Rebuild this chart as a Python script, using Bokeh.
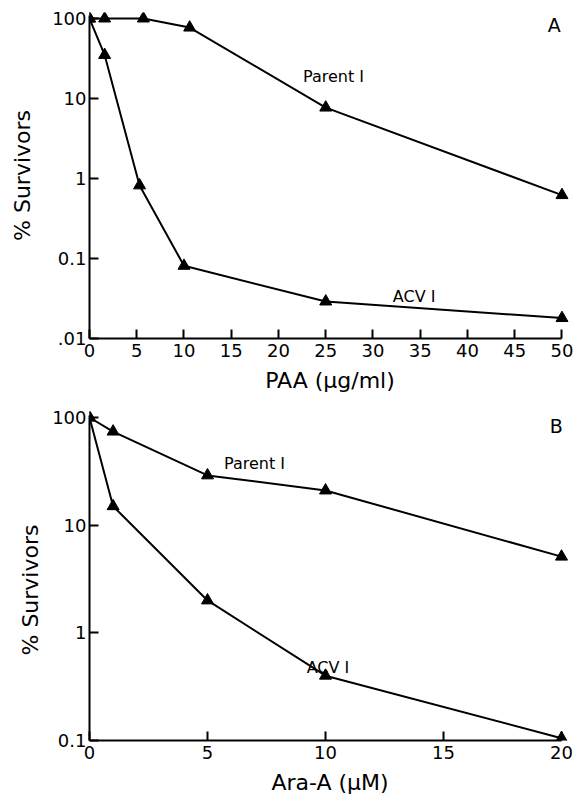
from bokeh.plotting import figure
from bokeh.layouts import column
from bokeh.models import FixedTicker, CustomJSTickFormatter, Range1d, Label, Title
from bokeh.core.properties import value
from bokeh.embed import file_html
from bokeh.resources import INLINE

FONT = "DejaVu Sans"

# ---- Panel A data: PAA (ug/ml) ----
paa_parent_x = [0, 1.6, 5.7, 10.6, 25, 50]
paa_parent_y = [100, 100, 100, 77, 7.7, 0.62]
paa_acv_x = [0, 1.6, 5.3, 10, 25, 50]
paa_acv_y = [100, 35, 0.82, 0.081, 0.029, 0.018]
paa_xticks = [0, 5, 10, 15, 20, 25, 30, 35, 40, 45, 50]
paa_yticks = [0.01, 0.1, 1, 10, 100]

# ---- Panel B data: Ara-A (uM) ----
ara_parent_x = [0, 1, 5, 10, 20]
ara_parent_y = [100, 74, 29, 21, 5.1]
ara_acv_x = [0, 1, 5, 10, 20]
ara_acv_y = [100, 15, 2.0, 0.40, 0.105]
ara_xticks = [0, 5, 10, 15, 20]
ara_yticks = [0.1, 1, 10, 100]

fmt = CustomJSTickFormatter(code="""
if (tick < 0.05) { return '.01'; }
if (tick < 0.5) { return '0.1'; }
return String(Math.round(tick));
""")


def style_axis(ax):
    ax.axis_line_width = 2
    ax.axis_line_color = "black"
    ax.major_tick_line_width = 2
    ax.major_tick_line_color = "black"
    ax.major_tick_in = 9
    ax.major_tick_out = 0
    ax.minor_tick_line_color = None
    ax.major_label_text_font = FONT
    ax.major_label_text_font_size = "18px"
    ax.major_label_text_color = "black"
    ax.axis_label_text_font = FONT
    ax.axis_label_text_font_size = "22px"
    ax.axis_label_text_font_style = "normal"
    ax.axis_label_text_color = "black"


def style_plot(p, xlabel, ylabel):
    style_axis(p.xaxis[0])
    style_axis(p.yaxis[0])
    p.xaxis[0].axis_label = xlabel
    p.xaxis[0].major_label_standoff = 5
    p.xaxis[0].axis_label_standoff = 8
    p.yaxis[0].major_label_standoff = 3
    p.yaxis[0].axis_label_standoff = 14
    if ylabel:
        p.yaxis[0].axis_label = ylabel
    p.grid.visible = False
    p.outline_line_color = None


def add_series(p, xs, ys):
    p.line(xs, ys, line_color="black", line_width=2)
    p.scatter(xs, ys, marker="triangle", size=12, fill_color="black", line_color="black")


def add_text(p, x, y, txt, size="16px", align="left"):
    p.add_layout(Label(x=x, y=y, text=txt, text_font=FONT, text_font_size=size,
                       text_align=align, text_baseline="middle", text_color="black"))


# ---------- Panel A ----------
pA = figure(width=584, height=399, output_backend="svg", toolbar_location=None,
            y_axis_type="log",
            x_range=Range1d(0, 50.9), y_range=Range1d(0.01, 118.9),
            min_border_left=89, min_border_right=14, min_border_top=12, min_border_bottom=61)
style_plot(pA, "PAA (\u03bcg/ml)", "% Survivors")
pA.xaxis[0].ticker = FixedTicker(ticks=paa_xticks)
pA.yaxis[0].ticker = FixedTicker(ticks=paa_yticks)
pA.yaxis[0].formatter = fmt
pA.xaxis[0].bounds = (0, 50)
pA.yaxis[0].bounds = (0.01, 110)
add_series(pA, paa_parent_x, paa_parent_y)
add_series(pA, paa_acv_x, paa_acv_y)
add_text(pA, 22.6, 18.8, "Parent I")
add_text(pA, 32.1, 0.0335, "ACV I")
add_text(pA, 48.5, 84, "A", size="19px")

# ---------- Panel B ----------
pB = figure(width=584, height=402, output_backend="svg", toolbar_location=None,
            y_axis_type="log",
            x_range=Range1d(0, 20.38), y_range=Range1d(0.1, 113.7),
            min_border_left=88, min_border_right=14, min_border_top=12, min_border_bottom=61)
style_plot(pB, "Ara-A (\u03bcM)", None)
pB.xaxis[0].ticker = FixedTicker(ticks=ara_xticks)
pB.yaxis[0].ticker = FixedTicker(ticks=ara_yticks)
pB.yaxis[0].formatter = fmt
pB.xaxis[0].bounds = (0, 20)
pB.yaxis[0].bounds = (0.1, 104)
add_series(pB, ara_parent_x, ara_parent_y)
add_series(pB, ara_acv_x, ara_acv_y)
add_text(pB, 5.7, 37.4, "Parent I")
add_text(pB, 9.2, 0.48, "ACV I")
add_text(pB, 19.5, 84, "B", size="19px")

# y title placed slightly below the frame centre, as in the original
pB.add_layout(Title(text="% Survivors", align="left", offset=85, standoff=14,
                    text_font=FONT, text_font_size="22px", text_font_style="normal",
                    text_color="black"), "left")

layout = column(pA, pB, spacing=0)
open("out.html", "w").write(file_html(layout, INLINE))
